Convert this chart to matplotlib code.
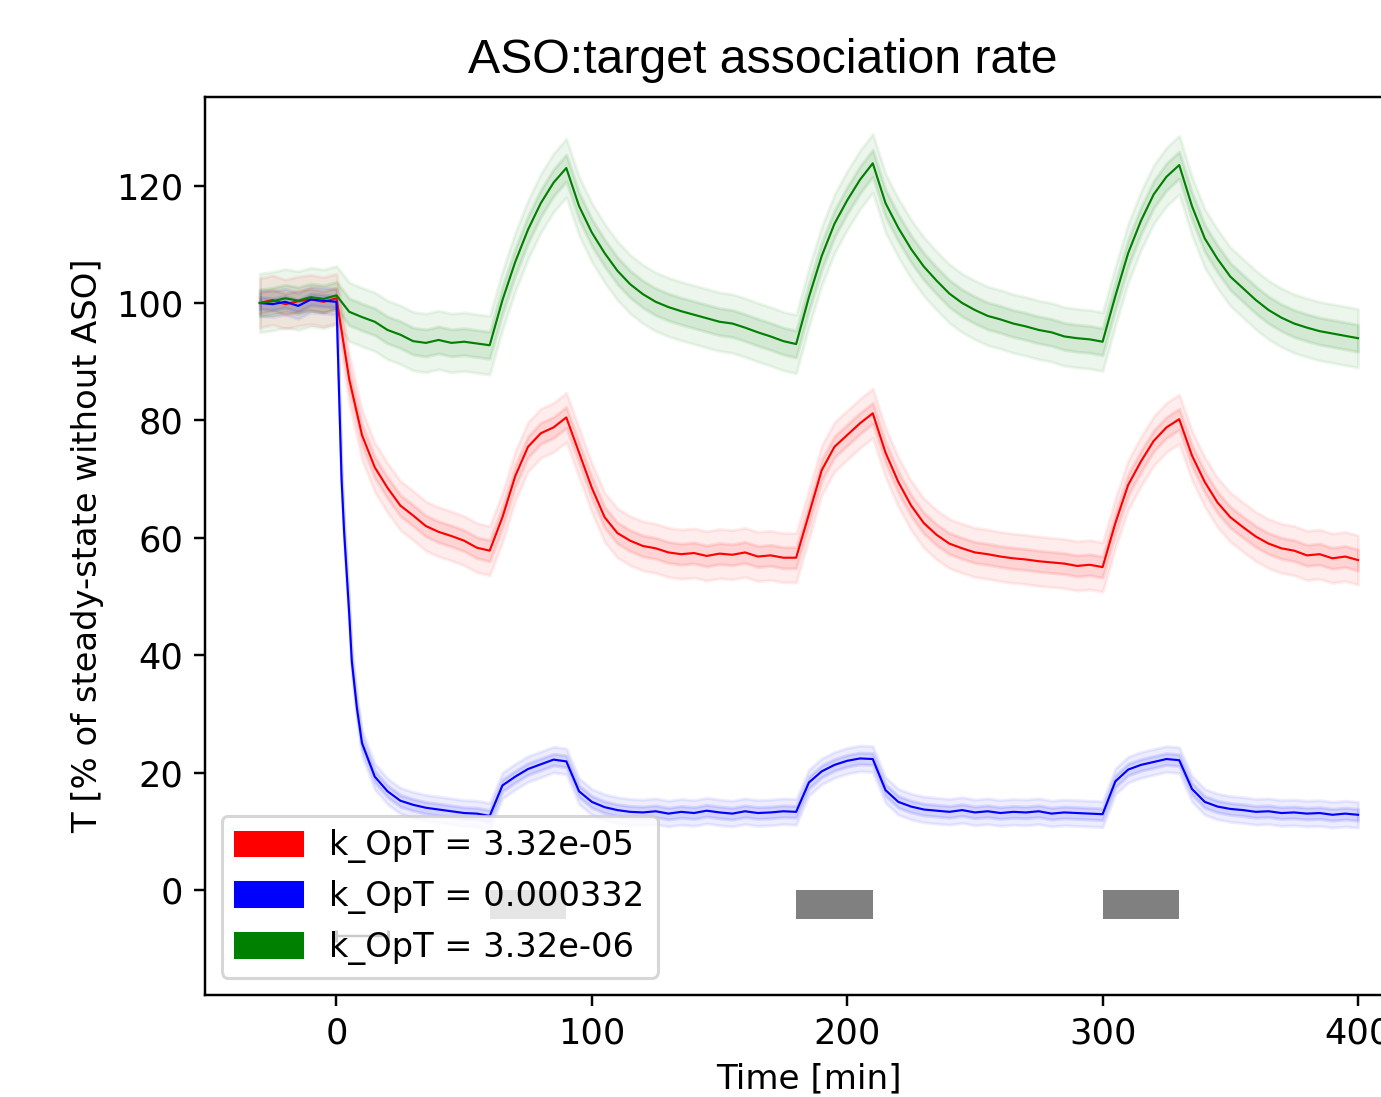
import matplotlib
matplotlib.use("Agg")
import matplotlib.pyplot as plt
import numpy as np
from matplotlib.patches import Patch

# time grid (min)
t = np.arange(-30, 401, 5)

red = [100, 100.5, 99.8, 100.3, 100.6, 100.2, 100.8,
       87, 77.5, 72, 68.5, 65.5, 63.8, 62, 61, 60.3, 59.5, 58.3, 57.8,
       63.5, 70.5, 75.5, 77.8, 78.8, 80.5,
       74.5, 68.5, 63.5, 60.8, 59.5, 58.6, 58.2, 57.5, 57.2, 57.4, 56.9, 57.3, 57.1, 57.5, 56.8, 57, 56.6, 56.6,
       64, 71.5, 75.5, 77.5, 79.5, 81.2,
       74.5, 69.5, 65.5, 62.5, 60.5, 59, 58.2, 57.5, 57.2, 56.8, 56.5, 56.3, 56, 55.8, 55.6, 55.2, 55.4, 55,
       62.5, 69, 73, 76.5, 78.8, 80.2,
       74, 69.5, 66, 63.5, 61.8, 60.2, 59, 58.2, 57.8, 57, 57.2, 56.5, 56.8, 56.2]

# blue has a few extra points during the fast drop after t=0
t_blue = [-30, -25, -20, -15, -10, -5, 0, 1, 2, 3, 4, 5, 6, 8,
          10, 15, 20, 25, 30, 35, 40, 45, 50, 55, 60] + list(range(65, 401, 5))
blue = [100, 99.8, 100.2, 99.5, 100.6, 100.4, 100.2, 85, 70, 61, 54, 47, 39, 31,
        25, 19.3, 16.8, 15.2, 14.5, 14, 13.7, 13.4, 13.1, 13, 12.6,
        17.8, 19.3, 20.6, 21.4, 22.2, 21.9,
        16.8, 15, 14.1, 13.6, 13.3, 13.2, 13.4, 13, 13.3, 13.1, 13.5, 13.2, 13, 13.4, 13.1, 13.2, 13.4, 13.3,
        18.3, 20.2, 21.3, 22, 22.4, 22.3,
        17, 15, 14.2, 13.7, 13.5, 13.3, 13.6, 13.2, 13.4, 13.1, 13.3, 13.2, 13.4, 13, 13.2, 13.1, 13, 12.9,
        18.5, 20.5, 21.3, 21.8, 22.3, 22.1,
        17.2, 15, 14.2, 13.8, 13.6, 13.3, 13.4, 13.1, 13.2, 13, 13.1, 12.8, 13, 12.8]

green = [100, 100.3, 100.8, 100.4, 101, 100.7, 101.3,
         98.5, 97.6, 96.8, 95.4, 94.6, 93.5, 93.2, 93.7, 93.2, 93.4, 93.1, 92.8,
         100.5, 107, 112.5, 117, 120.5, 123,
         116.5, 112, 108.5, 105.5, 103.2, 101.5, 100.2, 99.3, 98.6, 98, 97.4, 96.8, 96.5, 95.8, 95, 94.3, 93.5, 93,
         101, 108, 113.5, 117.5, 121, 123.8,
         117, 112.8, 109.2, 106.2, 103.8, 101.6, 100, 98.8, 97.8, 97.2, 96.5, 96, 95.4, 95, 94.3, 94, 93.8, 93.4,
         101.2, 108.5, 114, 118.5, 121.5, 123.5,
         116.5, 111, 107.5, 104.5, 102.5, 100.5, 98.8, 97.5, 96.5, 95.8, 95.2, 94.8, 94.4, 94]

# half widths of the inner / outer bands
inner = {"red": 1.8, "blue": 1.0, "green": 2.3}
outer = {"red": 4.2, "blue": 2.2, "green": 5.0}

labels = ["k_OpT = 3.32e-05", "k_OpT = 0.000332", "k_OpT = 3.32e-06"]

# ASO pulses
pulse_start = [60, 180, 300]
pulse_len = 30

fig = plt.figure(figsize=(1381 / 220, 1097 / 220), dpi=220)
ax = fig.add_axes([0.1484, 0.093, 0.8747, 0.8186])

series = [(t, red, "red"), (t_blue, blue, "blue"), (t, green, "green")]
for x, y, c in series:
    y = np.array(y)
    ax.fill_between(x, y - outer[c], y + outer[c], color=c, alpha=0.07)
    ax.fill_between(x, y - inner[c], y + inner[c], color=c, alpha=0.1)
    ax.plot(x, y, color=c, lw=0.7)

ax.bar(pulse_start, -5, width=pulse_len, align="edge", color="gray")
ax.errorbar(10, -7.8, xerr=10, color="k", lw=0.8, capsize=2)

ax.set_xlim(-51.5, 421.5)
ax.set_ylim(-17.9, 135.1)
ax.set_xticks([0, 100, 200, 300, 400])
ax.set_yticks([0, 20, 40, 60, 80, 100, 120])
ax.tick_params(labelsize=11.5)
ax.set_xlabel("Time [min]", fontsize=11.2)
ax.set_ylabel("T [% of steady-state without ASO]", fontsize=11.1)

handles = [Patch(color=c) for c in ["red", "blue", "green"]]
ax.legend(handles, labels, loc="lower left", fontsize=11)

fig.text(0.552, 0.9335, "ASO:target association rate", ha="center",
         va="baseline", fontsize=15.8, family="Liberation Sans")

fig.savefig("out.png", dpi=220)
